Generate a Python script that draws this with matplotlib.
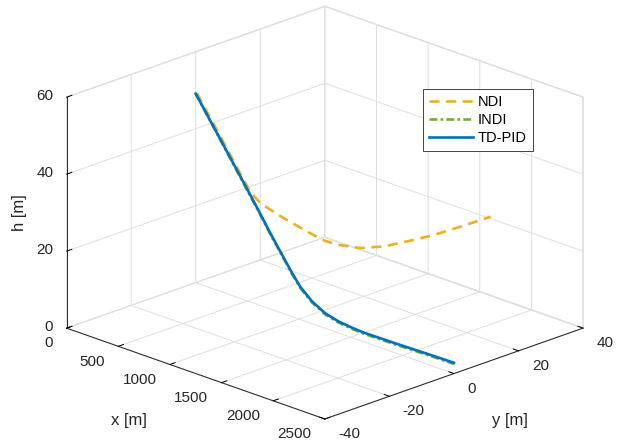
import numpy as np
import matplotlib
matplotlib.use('Agg')
import matplotlib.pyplot as plt
from mpl_toolkits.mplot3d import proj3d

plt.rcParams['font.family'] = ['Liberation Sans', 'DejaVu Sans']
plt.rcParams['font.size'] = 11
plt.rcParams['grid.color'] = '#dfdfdf'
plt.rcParams['grid.linewidth'] = 0.7
plt.rcParams['axes.edgecolor'] = '#262626'
plt.rcParams['axes.linewidth'] = 0.7

## Trajectories
x_pid = [0, 288, 513, 594, 722, 835, 931, 1012, 1125, 1253, 1381, 1511, 1623, 1945, 2266, 2500]
y_pid = [0, 0, 0, 0, 0, 0, 0, 0, 0, 0, 0, 0, 0, 0, 0, 0]
h_pid = [49.1, 37.5, 28.4, 25.1, 19.7, 15.2, 11.4, 8.5, 5.8, 3.9, 3.0, 2.6, 2.4, 2.5, 2.7, 2.8]

x_indi = [0, 288, 513, 594, 722, 835, 931, 1012, 1125, 1253, 1381, 1511, 1623, 1945, 2266, 2500]
y_indi = [0, 0, 0, 0, 0, 0, 0, 0, 0, 0, 0, 0, 0, 0, 0, 0]
h_indi = [49.1, 37.3, 28.1, 24.8, 19.4, 14.9, 11.1, 8.2, 5.5, 3.6, 2.7, 2.3, 2.1, 2.2, 2.4, 2.5]

x_ndi = [0, 288, 513, 607, 708, 810, 875, 940, 1041, 1142, 1244, 1359, 1475, 1605]
y_ndi = [0.4, 0.4, 0.4, 0.6, 4.6, 8.6, 11.2, 13.7, 17.7, 21.7, 25.7, 30.3, 34.9, 40]
h_ndi = [49.1, 37.5, 28.4, 26.2, 22.1, 18.4, 16.1, 14.7, 13.6, 13.8, 14.9, 16.3, 18.2, 20.5]

x_ticks = [0, 500, 1000, 1500, 2000, 2500]
y_ticks = [-40, -20, 0, 20, 40]
h_ticks = [0, 20, 40, 60]

W, H = 638, 447
fig = plt.figure(figsize=(W / 100, H / 100), dpi=100)
side = 540
ax = fig.add_axes([(325 - side / 2) / W, (H - 213 - side / 2) / H, side / W, side / H],
                  projection='3d', proj_type='ortho')
aspect = (1.48, 1.48, 1)
ax.view_init(elev=20.6, azim=-45)
ax.set_box_aspect(aspect)

l1, = ax.plot(x_ndi, y_ndi, h_ndi, color='#EDB120', lw=1.9, label='NDI')
l1.set_dashes((3.8, 2.5))
l2, = ax.plot(x_indi, y_indi, h_indi, color='#77AC30', lw=1.9, label='INDI')
l2.set_dashes((3.0, 1.2, 1.0, 1.2))
l3, = ax.plot(x_pid, y_pid, h_pid, color='#0072BD', lw=1.9, label='TD-PID')

ax.set_xlim(0, 2500)
ax.set_ylim(-40, 40)
ax.set_zlim(0, 60)
ax.set_xticks(x_ticks)
ax.set_yticks(y_ticks)
ax.set_zticks(h_ticks)
ax.set_xticklabels([])
ax.set_yticklabels([])
ax.set_zticklabels([])
ax.zaxis.set_ticks_position('lower')

for axis in (ax.xaxis, ax.yaxis, ax.zaxis):
    axis.set_pane_color((1, 1, 1, 1))
    axis.pane.set_edgecolor('#dfdfdf')
    axis._axinfo['tick']['inward_factor'] = 0.0
    axis._axinfo['tick']['outward_factor'] = 0.25
    axis._axinfo['tick']['linewidth'] = {True: 0.7, False: 0.5}
    axis._axinfo['tick']['color'] = '#262626'


def to_px(x, y, z):
    xs, ys, _ = proj3d.proj_transform(x, y, z, ax.get_proj())
    return ax.transData.transform((xs, ys))


# fit the box to the original layout
ta = np.array([66.7, H - 328.3])
tc = np.array([583.0, H - 97.0])
fig.canvas.draw()
k = np.linalg.norm(tc - ta) / np.linalg.norm(to_px(2500, 40, 60) - to_px(0, -40, 0))
ax.set_box_aspect(aspect, zoom=k)
fig.canvas.draw()
shift = (ta + tc) / 2 - (to_px(0, -40, 0) + to_px(2500, 40, 60)) / 2
pos = ax.get_position()
ax.set_position([pos.x0 + shift[0] / W, pos.y0 + shift[1] / H, pos.width, pos.height])
fig.canvas.draw()

for v in x_ticks:
    ax.annotate(str(v), to_px(v, -40, 0), xycoords='figure pixels', xytext=(-13.4, -15.2),
                textcoords='offset pixels', ha='right', va='center', color='#262626')
for v in y_ticks:
    ax.annotate(str(v), to_px(2500, v, 0), xycoords='figure pixels', xytext=(13.4, -15.2),
                textcoords='offset pixels', ha='left', va='center', color='#262626')
for v in h_ticks:
    ax.annotate(str(v), to_px(0, -40, v), xycoords='figure pixels', xytext=(-13.4, 1.5),
                textcoords='offset pixels', ha='right', va='center', color='#262626')

fig.text(129 / W, 1 - 420.5 / H, 'x [m]', ha='center', va='center', color='#262626', fontsize=12)
fig.text(509.5 / W, 1 - 420.5 / H, 'y [m]', ha='center', va='center', color='#262626', fontsize=12)
fig.text(20 / W, 1 - 213 / H, 'h [m]', ha='center', va='center', rotation=90, color='#262626',
         fontsize=12)

leg = fig.legend(handles=[l1, l2, l3], loc='upper left', bbox_to_anchor=(423 / W, 1 - 89 / H),
                 frameon=True, fancybox=False, framealpha=1, edgecolor='#262626', fontsize=10.5,
                 handlelength=3.0, handletextpad=0.35, borderpad=0.4, labelspacing=0.29,
                 borderaxespad=0)
leg.get_frame().set_linewidth(0.6)

fig.savefig('out.png', dpi=100, facecolor='white')
